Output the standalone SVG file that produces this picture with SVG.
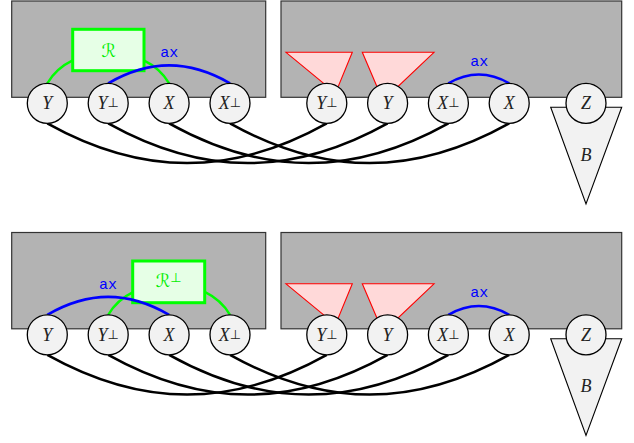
<svg xmlns="http://www.w3.org/2000/svg" width="634" height="443" viewBox="0 0 634 443">
<defs>
<style>
.panel{fill:#b3b3b3;stroke:#333;stroke-width:1.2}
.node{fill:#f2f2f2;stroke:#000;stroke-width:1.3}
.lbl{font-family:"Liberation Serif","DejaVu Serif",serif;font-style:italic;font-size:18px;fill:#222;text-anchor:middle}
.sup{font-family:"DejaVu Sans",sans-serif;font-style:normal;font-size:13px}
.wire{fill:none;stroke:#000;stroke-width:2.5}
.ax{fill:none;stroke:#0000ff;stroke-width:2.6}
.axt{font-family:"Liberation Mono","DejaVu Sans Mono",monospace;font-size:15px;fill:#0000ff;text-anchor:middle}
.gl{fill:none;stroke:#00ff00;stroke-width:2.4}
.gbox{fill:#e6ffe6;stroke:#00ff00;stroke-width:3}
.gt{font-family:"DejaVu Serif","DejaVu Sans",serif;font-style:italic;font-size:18px;fill:#00ee00;text-anchor:middle}
.tri{fill:#ffd9d9;stroke:#ff0000;stroke-width:1.1}
.btri{fill:#f2f2f2;stroke:#000;stroke-width:1.1}
</style>
</defs>

<!-- ===== TOP DIAGRAM ===== -->
<g id="panel-top-left"><rect class="panel" x="11.7" y="1" width="254" height="96.3"/></g>
<g id="panel-top-right"><rect class="panel" x="281" y="1" width="340.7" height="96.3"/></g>

<g id="top-triangles">
<polygon class="tri" points="286,52.3 352.3,52.3 335.5,93.2"/>
<polygon class="tri" points="362.3,52.3 434,52.3 383,100.7"/>
</g>

<g id="top-R-links"><path class="gl" d="M47.3,83.3 C71.2,42 145.2,42 169.1,83.3"/></g>
<g id="top-R"><rect class="gbox" x="72.7" y="29.3" width="71.3" height="41.4"/><text class="gt" x="108.8" y="56.7">ℛ</text></g>

<g id="top-ax">
<path class="ax" d="M108.2,83.3 C149.5,59.4 188.7,59.4 230,83.3"/>
<text class="axt" x="169.2" y="56.5">ax</text>
<path class="ax" d="M448.4,83.3 C469,71.4 488.6,71.4 509.2,83.3"/>
<text class="axt" x="479.2" y="65.5">ax</text>
</g>

<g id="top-wires">
<path class="wire" d="M47.3,123.3 C142.3,176.3 231.8,176.3 326.8,123.3"/>
<path class="wire" d="M108.2,123.3 C203.2,176.3 292.6,176.3 387.6,123.3"/>
<path class="wire" d="M169.1,123.3 C264.1,176.3 353.4,176.3 448.4,123.3"/>
<path class="wire" d="M230,123.3 C325,176.3 414.2,176.3 509.2,123.3"/>
</g>

<g id="top-B"><polygon class="btri" points="550.7,107.3 621.7,107.3 586,204"/><text class="lbl" x="586" y="160.5">B</text></g>

<g id="top-Y"><circle class="node" cx="47.3" cy="103.3" r="20"/><text class="lbl" x="47.3" y="109.3">Y</text></g>
<g id="top-Yp"><circle class="node" cx="108.2" cy="103.3" r="20"/><text class="lbl" x="108.2" y="109.3">Y<tspan class="sup" dy="-2">⊥</tspan></text></g>
<g id="top-X"><circle class="node" cx="169.1" cy="103.3" r="20"/><text class="lbl" x="169.1" y="109.3">X</text></g>
<g id="top-Xp"><circle class="node" cx="230" cy="103.3" r="20"/><text class="lbl" x="230" y="109.3">X<tspan class="sup" dy="-2">⊥</tspan></text></g>
<g id="top-Yp2"><circle class="node" cx="326.8" cy="103.3" r="20"/><text class="lbl" x="326.8" y="109.3">Y<tspan class="sup" dy="-2">⊥</tspan></text></g>
<g id="top-Y2"><circle class="node" cx="387.6" cy="103.3" r="20"/><text class="lbl" x="387.6" y="109.3">Y</text></g>
<g id="top-Xp2"><circle class="node" cx="448.4" cy="103.3" r="20"/><text class="lbl" x="448.4" y="109.3">X<tspan class="sup" dy="-2">⊥</tspan></text></g>
<g id="top-X2"><circle class="node" cx="509.2" cy="103.3" r="20"/><text class="lbl" x="509.2" y="109.3">X</text></g>
<g id="top-Z"><circle class="node" cx="586" cy="103.3" r="20"/><text class="lbl" x="586" y="109.3">Z</text></g>

<!-- ===== BOTTOM DIAGRAM ===== -->
<g id="panel-bot-left"><rect class="panel" x="11.7" y="232.5" width="254" height="96.3"/></g>
<g id="panel-bot-right"><rect class="panel" x="281" y="232.5" width="340.7" height="96.3"/></g>

<g id="bot-triangles">
<polygon class="tri" points="286,283.8 352.3,283.8 335.5,324.7"/>
<polygon class="tri" points="362.3,283.8 434,283.8 383,332.2"/>
</g>

<g id="bot-R-links"><path class="gl" d="M108.2,314.8 C132.1,273.5 206.1,273.5 230,314.8"/></g>
<g id="bot-R"><rect class="gbox" x="132.7" y="261" width="72" height="41.7"/><text class="gt" x="168.7" y="286.7">ℛ<tspan class="sup" dy="-5">⊥</tspan></text></g>

<g id="bot-ax">
<path class="ax" d="M47.3,314.8 C88.6,290.9 127.8,290.9 169.1,314.8"/>
<text class="axt" x="108" y="289">ax</text>
<path class="ax" d="M448.4,314.8 C469,302.9 488.6,302.9 509.2,314.8"/>
<text class="axt" x="479.2" y="297">ax</text>
</g>

<g id="bot-wires">
<path class="wire" d="M47.3,354.8 C142.3,407.8 231.8,407.8 326.8,354.8"/>
<path class="wire" d="M108.2,354.8 C203.2,407.8 292.6,407.8 387.6,354.8"/>
<path class="wire" d="M169.1,354.8 C264.1,407.8 353.4,407.8 448.4,354.8"/>
<path class="wire" d="M230,354.8 C325,407.8 414.2,407.8 509.2,354.8"/>
</g>

<g id="bot-B"><polygon class="btri" points="550.7,338.8 621.7,338.8 586,435.5"/><text class="lbl" x="586" y="392">B</text></g>

<g id="bot-Y"><circle class="node" cx="47.3" cy="334.8" r="20"/><text class="lbl" x="47.3" y="340.8">Y</text></g>
<g id="bot-Yp"><circle class="node" cx="108.2" cy="334.8" r="20"/><text class="lbl" x="108.2" y="340.8">Y<tspan class="sup" dy="-2">⊥</tspan></text></g>
<g id="bot-X"><circle class="node" cx="169.1" cy="334.8" r="20"/><text class="lbl" x="169.1" y="340.8">X</text></g>
<g id="bot-Xp"><circle class="node" cx="230" cy="334.8" r="20"/><text class="lbl" x="230" y="340.8">X<tspan class="sup" dy="-2">⊥</tspan></text></g>
<g id="bot-Yp2"><circle class="node" cx="326.8" cy="334.8" r="20"/><text class="lbl" x="326.8" y="340.8">Y<tspan class="sup" dy="-2">⊥</tspan></text></g>
<g id="bot-Y2"><circle class="node" cx="387.6" cy="334.8" r="20"/><text class="lbl" x="387.6" y="340.8">Y</text></g>
<g id="bot-Xp2"><circle class="node" cx="448.4" cy="334.8" r="20"/><text class="lbl" x="448.4" y="340.8">X<tspan class="sup" dy="-2">⊥</tspan></text></g>
<g id="bot-X2"><circle class="node" cx="509.2" cy="334.8" r="20"/><text class="lbl" x="509.2" y="340.8">X</text></g>
<g id="bot-Z"><circle class="node" cx="586" cy="334.8" r="20"/><text class="lbl" x="586" y="340.8">Z</text></g>
</svg>
